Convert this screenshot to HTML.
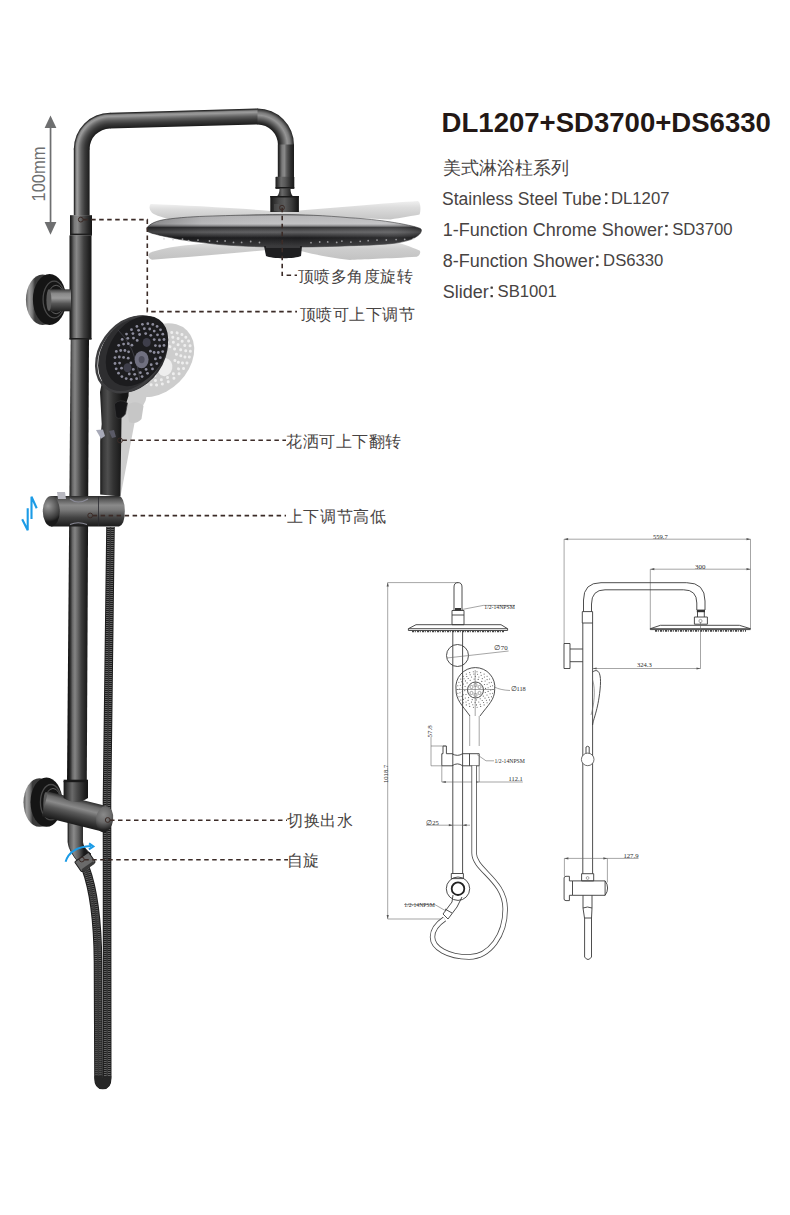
<!DOCTYPE html>
<html><head><meta charset="utf-8">
<style>
html,body{margin:0;padding:0;background:#fff;}
body{width:790px;height:1215px;position:relative;overflow:hidden;font-family:"Liberation Sans",sans-serif;}
.t{position:absolute;white-space:nowrap;color:#474342;line-height:1;}
#title{left:441.6px;top:109px;font-size:27.55px;font-weight:bold;color:#231815;}
.k{font-size:18px;}
.v{font-size:16.7px;}
.cn{font-size:17.7px;}
.lab{font-size:16px;letter-spacing:0.6px;color:#474342;}
.col{font-size:13px;}
svg{position:absolute;left:0;top:0;}
</style></head>
<body>
<svg width="790" height="1215" viewBox="0 0 790 1215">
<defs>
  <linearGradient id="tubeV" x1="0" y1="0" x2="1" y2="0">
    <stop offset="0" stop-color="#161618"/>
    <stop offset="0.25" stop-color="#3a3a3c"/>
    <stop offset="0.42" stop-color="#6c6c6e"/>
    <stop offset="0.6" stop-color="#3c3c3e"/>
    <stop offset="1" stop-color="#141416"/>
  </linearGradient>
  <linearGradient id="tubeH" x1="0" y1="0" x2="0" y2="1">
    <stop offset="0" stop-color="#202022"/>
    <stop offset="0.3" stop-color="#5a5a5c"/>
    <stop offset="0.5" stop-color="#707072"/>
    <stop offset="0.75" stop-color="#3a3a3c"/>
    <stop offset="1" stop-color="#161618"/>
  </linearGradient>
  <linearGradient id="disc" gradientUnits="userSpaceOnUse" x1="0" y1="214" x2="0" y2="247">
    <stop offset="0" stop-color="#58585a"/>
    <stop offset="0.07" stop-color="#b6b6b8"/>
    <stop offset="0.3" stop-color="#c2c2c4"/>
    <stop offset="0.36" stop-color="#8a8a8c"/>
    <stop offset="0.41" stop-color="#343436"/>
    <stop offset="0.55" stop-color="#606062"/>
    <stop offset="0.68" stop-color="#2e2e30"/>
    <stop offset="0.72" stop-color="#1c1c1e"/>
    <stop offset="1" stop-color="#3c3c3e"/>
  </linearGradient>
  <linearGradient id="discShade" gradientUnits="userSpaceOnUse" x1="147" y1="0" x2="421" y2="0">
    <stop offset="0" stop-color="#000" stop-opacity="0.3"/>
    <stop offset="0.2" stop-color="#000" stop-opacity="0.05"/>
    <stop offset="0.55" stop-color="#fff" stop-opacity="0.0"/>
    <stop offset="0.85" stop-color="#fff" stop-opacity="0.06"/>
    <stop offset="1" stop-color="#000" stop-opacity="0.25"/>
  </linearGradient>
  <linearGradient id="ghostA" x1="0" y1="0" x2="0" y2="1">
    <stop offset="0" stop-color="#f0f0f0"/>
    <stop offset="0.35" stop-color="#dcdcdc"/>
    <stop offset="1" stop-color="#c6c6c6"/>
  </linearGradient>
  <linearGradient id="ghostB" x1="0" y1="0" x2="0" y2="1">
    <stop offset="0" stop-color="#e2e2e2"/>
    <stop offset="0.4" stop-color="#cdcdcd"/>
    <stop offset="1" stop-color="#c2c2c2"/>
  </linearGradient>
  <linearGradient id="cylH" x1="0" y1="0" x2="0" y2="1">
    <stop offset="0" stop-color="#2a2a2c"/>
    <stop offset="0.25" stop-color="#505052"/>
    <stop offset="0.45" stop-color="#6a6a6c"/>
    <stop offset="0.7" stop-color="#38383a"/>
    <stop offset="1" stop-color="#1a1a1c"/>
  </linearGradient>
  <radialGradient id="cap" cx="0.4" cy="0.4" r="0.7">
    <stop offset="0" stop-color="#7a7a7c"/>
    <stop offset="0.6" stop-color="#4a4a4c"/>
    <stop offset="1" stop-color="#202022"/>
  </radialGradient>
  <linearGradient id="flange" x1="0" y1="0" x2="1" y2="0">
    <stop offset="0" stop-color="#2a2a2c"/>
    <stop offset="0.2" stop-color="#6a6a6c"/>
    <stop offset="0.45" stop-color="#2a2a2c"/>
    <stop offset="1" stop-color="#1a1a1c"/>
  </linearGradient>
</defs>
<defs><linearGradient id="gLV" gradientUnits="userSpaceOnUse" x1="73.8" y1="0" x2="89.6" y2="0"><stop offset="0" stop-color="#1a1a1a"/><stop offset="0.06" stop-color="#3a3a3a"/><stop offset="0.14" stop-color="#8c8c8c"/><stop offset="0.24" stop-color="#9a9a9a"/><stop offset="0.36" stop-color="#7a7a7a"/><stop offset="0.5" stop-color="#5a5a5a"/><stop offset="0.7" stop-color="#3a3a3a"/><stop offset="0.9" stop-color="#262626"/><stop offset="1" stop-color="#1a1a1a"/></linearGradient><radialGradient id="gLC" gradientUnits="userSpaceOnUse" cx="110" cy="149" r="36.2"><stop offset="0.5635" stop-color="#1a1a1a"/><stop offset="0.6072" stop-color="#262626"/><stop offset="0.6945" stop-color="#3a3a3a"/><stop offset="0.7818" stop-color="#5a5a5a"/><stop offset="0.8429" stop-color="#7a7a7a"/><stop offset="0.8952" stop-color="#9a9a9a"/><stop offset="0.9389" stop-color="#8c8c8c"/><stop offset="0.9738" stop-color="#3a3a3a"/><stop offset="1.0000" stop-color="#1a1a1a"/></radialGradient><linearGradient id="gTB" gradientUnits="userSpaceOnUse" x1="110" y1="112.8" x2="110.46" y2="128.6"><stop offset="0" stop-color="#1a1a1a"/><stop offset="0.06" stop-color="#3a3a3a"/><stop offset="0.14" stop-color="#8c8c8c"/><stop offset="0.24" stop-color="#9a9a9a"/><stop offset="0.36" stop-color="#7a7a7a"/><stop offset="0.5" stop-color="#5a5a5a"/><stop offset="0.7" stop-color="#3a3a3a"/><stop offset="0.9" stop-color="#262626"/><stop offset="1" stop-color="#1a1a1a"/></linearGradient><radialGradient id="gRC" gradientUnits="userSpaceOnUse" cx="257.5" cy="145" r="36.5"><stop offset="0.5616" stop-color="#1a1a1a"/><stop offset="0.6274" stop-color="#333"/><stop offset="0.7370" stop-color="#6a6a6a"/><stop offset="0.8159" stop-color="#959595"/><stop offset="0.8904" stop-color="#7a7a7a"/><stop offset="0.9649" stop-color="#3e3e3e"/><stop offset="1.0000" stop-color="#1c1c1c"/></radialGradient><linearGradient id="gRV" gradientUnits="userSpaceOnUse" x1="278" y1="0" x2="294" y2="0"><stop offset="0" stop-color="#1c1c1c"/><stop offset="0.1" stop-color="#3a3a3a"/><stop offset="0.25" stop-color="#7a7a7a"/><stop offset="0.4" stop-color="#8a8a8a"/><stop offset="0.55" stop-color="#5a5a5a"/><stop offset="0.8" stop-color="#2e2e2e"/><stop offset="1" stop-color="#1a1a1a"/></linearGradient><linearGradient id="gNut" gradientUnits="userSpaceOnUse" x1="275.5" y1="0" x2="294.3" y2="0"><stop offset="0" stop-color="#1a1a1a"/><stop offset="0.12" stop-color="#3a3a3a"/><stop offset="0.3" stop-color="#6a6a6a"/><stop offset="0.5" stop-color="#5a5a5a"/><stop offset="0.8" stop-color="#2e2e2e"/><stop offset="1" stop-color="#161616"/></linearGradient><linearGradient id="gNeck" gradientUnits="userSpaceOnUse" x1="277.8" y1="0" x2="292" y2="0"><stop offset="0" stop-color="#222"/><stop offset="0.3" stop-color="#6a6a6a"/><stop offset="0.6" stop-color="#4a4a4a"/><stop offset="1" stop-color="#1a1a1a"/></linearGradient><linearGradient id="gSw" gradientUnits="userSpaceOnUse" x1="270.3" y1="0" x2="298.9" y2="0"><stop offset="0" stop-color="#161616"/><stop offset="0.1" stop-color="#2a2a2a"/><stop offset="0.3" stop-color="#4a4a4a"/><stop offset="0.5" stop-color="#5a5a5a"/><stop offset="0.75" stop-color="#3a3a3a"/><stop offset="0.92" stop-color="#1e1e1e"/><stop offset="1" stop-color="#121212"/></linearGradient><linearGradient id="gSl" gradientUnits="userSpaceOnUse" x1="70" y1="0" x2="92" y2="0"><stop offset="0" stop-color="#161616"/><stop offset="0.08" stop-color="#333"/><stop offset="0.2" stop-color="#7a7a7a"/><stop offset="0.35" stop-color="#8a8a8a"/><stop offset="0.55" stop-color="#555"/><stop offset="0.8" stop-color="#2e2e2e"/><stop offset="1" stop-color="#141414"/></linearGradient><linearGradient id="gLT" gradientUnits="userSpaceOnUse" x1="68.8" y1="0" x2="88" y2="0"><stop offset="0" stop-color="#161616"/><stop offset="0.08" stop-color="#2e2e2e"/><stop offset="0.2" stop-color="#6a6a6a"/><stop offset="0.32" stop-color="#848484"/><stop offset="0.45" stop-color="#6a6a6a"/><stop offset="0.65" stop-color="#3e3e3e"/><stop offset="0.88" stop-color="#222"/><stop offset="1" stop-color="#161616"/></linearGradient><linearGradient id="gTee" gradientUnits="userSpaceOnUse" x1="69.5" y1="0" x2="91.5" y2="0"><stop offset="0" stop-color="#161616"/><stop offset="0.08" stop-color="#2e2e2e"/><stop offset="0.2" stop-color="#6a6a6a"/><stop offset="0.32" stop-color="#888"/><stop offset="0.45" stop-color="#6e6e6e"/><stop offset="0.65" stop-color="#404040"/><stop offset="0.88" stop-color="#222"/><stop offset="1" stop-color="#161616"/></linearGradient><linearGradient id="gFTr" gradientUnits="userSpaceOnUse" x1="25.900000000000006" y1="0" x2="34.900000000000006" y2="0"><stop offset="0" stop-color="#5a5a5a"/><stop offset="0.35" stop-color="#a0a0a0"/><stop offset="0.7" stop-color="#7a7a7a"/><stop offset="1" stop-color="#3a3a3a"/></linearGradient><linearGradient id="gFTa" gradientUnits="userSpaceOnUse" x1="0" y1="289.3" x2="0" y2="311.3"><stop offset="0" stop-color="#3a3a3a"/><stop offset="0.2" stop-color="#8a8a8a"/><stop offset="0.4" stop-color="#9a9a9a"/><stop offset="0.65" stop-color="#555"/><stop offset="1" stop-color="#222"/></linearGradient><linearGradient id="gHandle" gradientUnits="userSpaceOnUse" x1="100" y1="0" x2="122" y2="0"><stop offset="0" stop-color="#1a1a1a"/><stop offset="0.15" stop-color="#3a3a3a"/><stop offset="0.35" stop-color="#4e4e4e"/><stop offset="0.6" stop-color="#333"/><stop offset="1" stop-color="#161616"/></linearGradient><linearGradient id="gSlB" gradientUnits="userSpaceOnUse" x1="0" y1="496" x2="0" y2="526.6"><stop offset="0" stop-color="#2a2a2a"/><stop offset="0.1" stop-color="#555"/><stop offset="0.3" stop-color="#8a8a8a"/><stop offset="0.45" stop-color="#7a7a7a"/><stop offset="0.7" stop-color="#444"/><stop offset="1" stop-color="#1a1a1a"/></linearGradient><radialGradient id="gCap" gradientUnits="userSpaceOnUse" cx="48" cy="506" r="16"><stop offset="0.0000" stop-color="#9a9a9a"/><stop offset="0.4000" stop-color="#6a6a6a"/><stop offset="0.8000" stop-color="#3a3a3a"/><stop offset="1.0000" stop-color="#1a1a1a"/></radialGradient><linearGradient id="gEl" gradientUnits="userSpaceOnUse" x1="67" y1="0" x2="84" y2="0"><stop offset="0" stop-color="#1a1a1a"/><stop offset="0.15" stop-color="#5a5a5a"/><stop offset="0.4" stop-color="#8a8a8a"/><stop offset="0.7" stop-color="#5a5a5a"/><stop offset="1" stop-color="#1a1a1a"/></linearGradient><linearGradient id="gFDr" gradientUnits="userSpaceOnUse" x1="23.5" y1="0" x2="32.5" y2="0"><stop offset="0" stop-color="#5a5a5a"/><stop offset="0.35" stop-color="#a0a0a0"/><stop offset="0.7" stop-color="#7a7a7a"/><stop offset="1" stop-color="#3a3a3a"/></linearGradient><linearGradient id="gFDa" gradientUnits="userSpaceOnUse" x1="0" y1="792" x2="0" y2="816"><stop offset="0" stop-color="#3a3a3a"/><stop offset="0.2" stop-color="#8a8a8a"/><stop offset="0.4" stop-color="#9a9a9a"/><stop offset="0.65" stop-color="#555"/><stop offset="1" stop-color="#222"/></linearGradient><linearGradient id="gDB" gradientUnits="userSpaceOnUse" x1="0" y1="791" x2="0" y2="817"><stop offset="0" stop-color="#2a2a2a"/><stop offset="0.15" stop-color="#6a6a6a"/><stop offset="0.35" stop-color="#8a8a8a"/><stop offset="0.55" stop-color="#5a5a5a"/><stop offset="0.8" stop-color="#333"/><stop offset="1" stop-color="#1a1a1a"/></linearGradient><radialGradient id="gCap2" gradientUnits="userSpaceOnUse" cx="103" cy="815" r="15"><stop offset="0.0000" stop-color="#8a8a8a"/><stop offset="0.5000" stop-color="#6a6a6a"/><stop offset="0.8500" stop-color="#3a3a3a"/><stop offset="1.0000" stop-color="#222"/></radialGradient><linearGradient id="gDN" gradientUnits="userSpaceOnUse" x1="63.6" y1="0" x2="88" y2="0"><stop offset="0" stop-color="#161616"/><stop offset="0.12" stop-color="#333"/><stop offset="0.35" stop-color="#6a6a6a"/><stop offset="0.55" stop-color="#4a4a4a"/><stop offset="0.85" stop-color="#222"/><stop offset="1" stop-color="#141414"/></linearGradient></defs><g id="photo"><g fill="#6e6f70">
<rect x="49.7" y="125" width="1.7" height="100"/>
<path d="M50.5 115.5 L44.6 128 L56.4 128 Z"/>
<path d="M50.5 234.7 L44.6 222 L56.4 222 Z"/>
</g>
<text transform="translate(45,201.5) rotate(-90)" font-family="Liberation Sans" font-size="18" fill="#6e6f70" textLength="55" lengthAdjust="spacingAndGlyphs">100mm</text>
<path d="M150.6 204.1 C 190 205.5 250 209 285 212 L 285 216 C 250 217.5 200 219 170.4 219.3 C 160 217 153 214 152 212.7 C 149 210 149 206 150.6 204.1 Z" fill="url(#ghostA)"/>
<path d="M285 212 C 330 208 390 203 417.8 201.1 C 421 202 421 212 419.5 214.5 C 415 215.5 400 218 390.5 219.4 C 350 218 310 216 285 216 Z" fill="url(#ghostA)"/>
<path d="M150 252.7 C 170 245 200 242 285 242 L 285 248 C 250 252 200 256 152 259.8 C 148 258 147.5 255 150 252.7 Z" fill="url(#ghostB)"/>
<path d="M285 242 C 340 242 390 243 398.6 242.7 C 405 245 415 248 419.9 250.8 C 421 253 419 256 416.8 256.8 C 390 258.5 360 259.5 350 259.9 C 320 257 300 250 285 248 Z" fill="url(#ghostB)"/>
<path d="M147.1 227.4 C 152 222 160 219.8 170.4 218.8 C 185 217 200 216.3 220 215.8 C 250 214.8 270 214.5 285 214.5 C 300 214.5 325 215.5 350 217.8 C 380 219.5 405 224 415.8 227 C 419 228 421.4 228.5 421.4 230 C 421.4 233 419 236 410.8 239.6 C 405 241.5 398 243 390.5 243.7 C 375 245 360 245.5 350 245.7 C 320 247 300 247 285 247 C 265 247 245 246.5 220 244.6 C 200 242.5 190 241 180.5 239.6 C 165 236.5 150 233.5 148 231.5 C 147 230 146.8 228.5 147.1 227.4 Z" fill="url(#disc)" stroke="#3a3a3c" stroke-width="0.6"/>
<path d="M147.1 227.4 C 152 222 160 219.8 170.4 218.8 C 185 217 200 216.3 220 215.8 C 250 214.8 270 214.5 285 214.5 C 300 214.5 325 215.5 350 217.8 C 380 219.5 405 224 415.8 227 C 419 228 421.4 228.5 421.4 230 C 421.4 233 419 236 410.8 239.6 C 405 241.5 398 243 390.5 243.7 C 375 245 360 245.5 350 245.7 C 320 247 300 247 285 247 C 265 247 245 246.5 220 244.6 C 200 242.5 190 241 180.5 239.6 C 165 236.5 150 233.5 148 231.5 C 147 230 146.8 228.5 147.1 227.4 Z" fill="url(#discShade)"/>
<circle cx="164.0" cy="238.8" r="0.9" fill="#c8c8ca" opacity="0.7"/>
<circle cx="173.0" cy="239.5" r="0.9" fill="#c8c8ca" opacity="0.7"/>
<circle cx="182.5" cy="239.1" r="0.9" fill="#c8c8ca" opacity="0.7"/>
<circle cx="188.6" cy="240.7" r="0.9" fill="#c8c8ca" opacity="0.7"/>
<circle cx="198.0" cy="240.1" r="0.9" fill="#c8c8ca" opacity="0.7"/>
<circle cx="209.5" cy="241.0" r="0.9" fill="#c8c8ca" opacity="0.7"/>
<circle cx="217.3" cy="241.3" r="0.9" fill="#c8c8ca" opacity="0.7"/>
<circle cx="225.1" cy="241.0" r="0.9" fill="#c8c8ca" opacity="0.7"/>
<circle cx="233.5" cy="242.4" r="0.9" fill="#c8c8ca" opacity="0.7"/>
<circle cx="241.6" cy="242.4" r="0.9" fill="#c8c8ca" opacity="0.7"/>
<circle cx="250.7" cy="241.5" r="0.9" fill="#c8c8ca" opacity="0.7"/>
<circle cx="259.5" cy="242.5" r="0.9" fill="#c8c8ca" opacity="0.7"/>
<circle cx="311.0" cy="242.7" r="0.9" fill="#c8c8ca" opacity="0.7"/>
<circle cx="319.7" cy="242.0" r="0.9" fill="#c8c8ca" opacity="0.7"/>
<circle cx="327.7" cy="241.9" r="0.9" fill="#c8c8ca" opacity="0.7"/>
<circle cx="336.7" cy="242.4" r="0.9" fill="#c8c8ca" opacity="0.7"/>
<circle cx="341.9" cy="241.1" r="0.9" fill="#c8c8ca" opacity="0.7"/>
<circle cx="350.9" cy="242.1" r="0.9" fill="#c8c8ca" opacity="0.7"/>
<circle cx="360.2" cy="241.3" r="0.9" fill="#c8c8ca" opacity="0.7"/>
<circle cx="368.2" cy="240.7" r="0.9" fill="#c8c8ca" opacity="0.7"/>
<circle cx="377.0" cy="240.1" r="0.9" fill="#c8c8ca" opacity="0.7"/>
<circle cx="386.3" cy="240.0" r="0.9" fill="#c8c8ca" opacity="0.7"/>
<circle cx="396.1" cy="239.6" r="0.9" fill="#c8c8ca" opacity="0.7"/>
<circle cx="404.7" cy="239.4" r="0.9" fill="#c8c8ca" opacity="0.7"/>
<circle cx="413.5" cy="238.6" r="0.9" fill="#c8c8ca" opacity="0.7"/>
<path d="M264 246 L302 246 L301 256 C 295 259 272 259 266 256 Z" fill="#1e1e20"/>
<rect x="266" y="246" width="34" height="2" fill="#3a3a3c"/>
<rect x="73.8" y="148.5" width="15.8" height="67" fill="url(#gLV)"/>
<path d="M73.8 149.5 L73.8 149 A36.2 36.2 0 0 1 110 112.8 L110.5 112.8 L110.5 128.6 L110 128.6 A20.4 20.4 0 0 0 89.6 149 L89.6 149.5 Z" fill="url(#gLC)"/>
<path d="M110 112.8 L258 108.5 L258 124.5 L110 128.6 Z" fill="url(#gTB)"/>
<path d="M257.5 108.5 A36.5 36.5 0 0 1 294 145 L278 145 A20.5 20.5 0 0 0 257.5 124.5 Z" fill="url(#gRC)"/>
<rect x="277.8" y="144.5" width="16.2" height="33" fill="url(#gRV)"/>
<rect x="275.5" y="176.8" width="18.8" height="11.9" rx="0.8" fill="url(#gNut)"/>
<rect x="275.5" y="187" width="18.8" height="1.7" fill="#1a1a1a"/>
<path d="M279.5 188.7 L290.5 188.7 Q290.5 194 293 196.2 L277 196.2 Q279.5 194 279.5 188.7 Z" fill="url(#gNeck)"/>
<rect x="270.3" y="196" width="28.6" height="16" fill="url(#gSw)"/>
<rect x="270.3" y="196" width="28.6" height="1.5" fill="#1a1a1a"/>
<rect x="274" y="204" width="5" height="7" fill="#5a5a5a" opacity="0.5"/>
<rect x="70" y="215.2" width="22" height="20.2" fill="url(#gSl)"/>
<rect x="70" y="233.6" width="22" height="1.8" fill="#1e1e1e"/>
<path d="M70.7 339 L89 339 L86.8 780 L67 780 Z" fill="url(#gLT)"/>
<rect x="69.5" y="235.4" width="22" height="104" fill="url(#gTee)"/>
<rect x="69.5" y="338" width="22" height="1.5" fill="#1e1e1e"/>
<ellipse cx="42.6" cy="299.8" rx="16.7" ry="25.2" fill="url(#gFTr)"/>
<ellipse cx="49.6" cy="299.5" rx="16.7" ry="25.5" fill="#151515"/>
<ellipse cx="54.1" cy="299.5" rx="11.022" ry="18.36" fill="none" stroke="#4a4a4a" stroke-width="1.3"/>
<ellipse cx="56.1" cy="299.5" rx="8.35" ry="14.280000000000001" fill="none" stroke="#5e5e5e" stroke-width="1"/>
<rect x="48.9" y="289.3" width="22.1" height="22.0" fill="url(#gFTa)"/>
<ellipse cx="48.9" cy="300.3" rx="2.5" ry="11.0" fill="#5a5a5a"/>
<g transform="rotate(10 110 496)" fill="#cdcdcd"><ellipse cx="133" cy="354" rx="42" ry="31" transform="rotate(-55 133 354)"/><path d="M104 372 L129 382 L128.5 396 L121.5 418 L120.4 496.5 L100.2 494.4 L100.2 440.8 L101.7 424 L100 392 Z"/></g>
<g transform="rotate(10 110 496)" fill="#eeeeee"><circle cx="148.1" cy="340.1" r="1.5"/><circle cx="150.8" cy="344.8" r="1.5"/><circle cx="150.4" cy="351.2" r="1.5"/><circle cx="130.9" cy="362.9" r="1.5"/><circle cx="128.2" cy="358.2" r="1.5"/><circle cx="128.6" cy="351.8" r="1.5"/><circle cx="131.9" cy="345.2" r="1.5"/><circle cx="137.2" cy="340.4" r="1.5"/><circle cx="143.1" cy="338.5" r="1.5"/><circle cx="150.8" cy="335.3" r="1.5"/><circle cx="154.2" cy="339.6" r="1.5"/><circle cx="155.4" cy="345.6" r="1.5"/><circle cx="154.1" cy="352.5" r="1.5"/><circle cx="133.3" cy="369.4" r="1.5"/><circle cx="128.2" cy="367.7" r="1.5"/><circle cx="124.8" cy="363.4" r="1.5"/><circle cx="123.6" cy="357.4" r="1.5"/><circle cx="124.9" cy="350.5" r="1.5"/><circle cx="128.3" cy="343.7" r="1.5"/><circle cx="133.5" cy="338.1" r="1.5"/><circle cx="139.6" cy="334.5" r="1.5"/><circle cx="145.7" cy="333.6" r="1.5"/><circle cx="154.2" cy="331.1" r="1.5"/><circle cx="157.5" cy="334.8" r="1.5"/><circle cx="159.4" cy="339.9" r="1.5"/><circle cx="159.7" cy="346.0" r="1.5"/><circle cx="158.3" cy="352.5" r="1.5"/><circle cx="155.4" cy="358.9" r="1.5"/><circle cx="151.2" cy="364.7" r="1.5"/><circle cx="146.1" cy="369.4" r="1.5"/><circle cx="140.4" cy="372.7" r="1.5"/><circle cx="134.7" cy="374.3" r="1.5"/><circle cx="129.3" cy="374.0" r="1.5"/><circle cx="124.8" cy="371.9" r="1.5"/><circle cx="121.5" cy="368.2" r="1.5"/><circle cx="119.6" cy="363.1" r="1.5"/><circle cx="119.3" cy="357.0" r="1.5"/><circle cx="120.7" cy="350.5" r="1.5"/><circle cx="123.6" cy="344.1" r="1.5"/><circle cx="127.8" cy="338.3" r="1.5"/><circle cx="132.9" cy="333.6" r="1.5"/><circle cx="138.6" cy="330.3" r="1.5"/><circle cx="144.3" cy="328.7" r="1.5"/><circle cx="149.7" cy="329.0" r="1.5"/><circle cx="157.1" cy="326.4" r="1.5"/><circle cx="160.5" cy="329.8" r="1.5"/><circle cx="162.8" cy="334.2" r="1.5"/><circle cx="164.0" cy="339.5" r="1.5"/><circle cx="164.0" cy="345.4" r="1.5"/><circle cx="162.7" cy="351.6" r="1.5"/><circle cx="160.3" cy="357.7" r="1.5"/><circle cx="156.8" cy="363.6" r="1.5"/><circle cx="152.5" cy="368.9" r="1.5"/><circle cx="147.5" cy="373.3" r="1.5"/><circle cx="142.1" cy="376.6" r="1.5"/><circle cx="136.6" cy="378.7" r="1.5"/><circle cx="131.2" cy="379.3" r="1.5"/><circle cx="126.2" cy="378.6" r="1.5"/><circle cx="121.9" cy="376.6" r="1.5"/><circle cx="118.5" cy="373.2" r="1.5"/><circle cx="116.2" cy="368.8" r="1.5"/><circle cx="115.0" cy="363.5" r="1.5"/><circle cx="115.0" cy="357.6" r="1.5"/><circle cx="116.3" cy="351.4" r="1.5"/><circle cx="118.7" cy="345.3" r="1.5"/><circle cx="122.2" cy="339.4" r="1.5"/><circle cx="126.5" cy="334.1" r="1.5"/><circle cx="131.5" cy="329.7" r="1.5"/><circle cx="136.9" cy="326.4" r="1.5"/><circle cx="142.4" cy="324.3" r="1.5"/><circle cx="147.8" cy="323.7" r="1.5"/><circle cx="152.8" cy="324.4" r="1.5"/><ellipse cx="141.6" cy="359.6" rx="7.5" ry="9"/></g>
<path d="M127 405 Q136 399 143.5 406 L141.5 419 Q136 425 129 422 Z" fill="#c6c6c6"/>
<g fill="url(#gHandle)"><path d="M104 372 L129 382 L128.5 396 L121.5 418 L120.4 496.5 L100.2 494.4 L100.2 440.8 L101.7 424 L100 392 Z"/></g>
<g fill="#2e2e30"><ellipse cx="133" cy="354" rx="42" ry="31" transform="rotate(-55 133 354)"/></g>
<ellipse cx="131" cy="352" rx="41" ry="30" transform="rotate(-55 133 354)" fill="none" stroke="#3e3e40" stroke-width="2.5"/>
<ellipse cx="137" cy="351" rx="38.5" ry="27" transform="rotate(-55 137 351)" fill="#1c1c1e"/>
<path d="M118 330 Q135 345 140 380" stroke="#3a3a40" stroke-width="1" fill="none"/>
<circle cx="150.4" cy="351.2" r="1.4" fill="#8c8c9c"/>
<circle cx="130.9" cy="362.9" r="1.4" fill="#8c8c9c"/>
<circle cx="128.2" cy="358.2" r="1.4" fill="#8c8c9c"/>
<circle cx="128.6" cy="351.8" r="1.4" fill="#8c8c9c"/>
<circle cx="131.9" cy="345.2" r="1.4" fill="#8c8c9c"/>
<circle cx="137.2" cy="340.4" r="1.4" fill="#8c8c9c"/>
<circle cx="150.8" cy="335.3" r="1.4" fill="#8c8c9c"/>
<circle cx="154.2" cy="339.6" r="1.4" fill="#8c8c9c"/>
<circle cx="155.4" cy="345.6" r="1.4" fill="#8c8c9c"/>
<circle cx="154.1" cy="352.5" r="1.4" fill="#8c8c9c"/>
<circle cx="133.3" cy="369.4" r="1.4" fill="#8c8c9c"/>
<circle cx="123.6" cy="357.4" r="1.4" fill="#8c8c9c"/>
<circle cx="124.9" cy="350.5" r="1.4" fill="#8c8c9c"/>
<circle cx="128.3" cy="343.7" r="1.4" fill="#8c8c9c"/>
<circle cx="133.5" cy="338.1" r="1.4" fill="#8c8c9c"/>
<circle cx="139.6" cy="334.5" r="1.4" fill="#8c8c9c"/>
<circle cx="145.7" cy="333.6" r="1.4" fill="#8c8c9c"/>
<circle cx="154.2" cy="331.1" r="1.4" fill="#8c8c9c"/>
<circle cx="157.5" cy="334.8" r="1.4" fill="#8c8c9c"/>
<circle cx="159.4" cy="339.9" r="1.4" fill="#8c8c9c"/>
<circle cx="159.7" cy="346.0" r="1.4" fill="#8c8c9c"/>
<circle cx="158.3" cy="352.5" r="1.4" fill="#8c8c9c"/>
<circle cx="155.4" cy="358.9" r="1.4" fill="#8c8c9c"/>
<circle cx="151.2" cy="364.7" r="1.4" fill="#8c8c9c"/>
<circle cx="146.1" cy="369.4" r="1.4" fill="#8c8c9c"/>
<circle cx="140.4" cy="372.7" r="1.4" fill="#8c8c9c"/>
<circle cx="134.7" cy="374.3" r="1.4" fill="#8c8c9c"/>
<circle cx="129.3" cy="374.0" r="1.4" fill="#8c8c9c"/>
<circle cx="121.5" cy="368.2" r="1.4" fill="#8c8c9c"/>
<circle cx="119.6" cy="363.1" r="1.4" fill="#8c8c9c"/>
<circle cx="119.3" cy="357.0" r="1.4" fill="#8c8c9c"/>
<circle cx="120.7" cy="350.5" r="1.4" fill="#8c8c9c"/>
<circle cx="123.6" cy="344.1" r="1.4" fill="#8c8c9c"/>
<circle cx="127.8" cy="338.3" r="1.4" fill="#8c8c9c"/>
<circle cx="132.9" cy="333.6" r="1.4" fill="#8c8c9c"/>
<circle cx="138.6" cy="330.3" r="1.4" fill="#8c8c9c"/>
<circle cx="144.3" cy="328.7" r="1.4" fill="#8c8c9c"/>
<circle cx="149.7" cy="329.0" r="1.4" fill="#8c8c9c"/>
<circle cx="157.1" cy="326.4" r="1.4" fill="#8c8c9c"/>
<circle cx="160.5" cy="329.8" r="1.4" fill="#8c8c9c"/>
<circle cx="162.8" cy="334.2" r="1.4" fill="#8c8c9c"/>
<circle cx="164.0" cy="339.5" r="1.4" fill="#8c8c9c"/>
<circle cx="164.0" cy="345.4" r="1.4" fill="#8c8c9c"/>
<circle cx="162.7" cy="351.6" r="1.4" fill="#8c8c9c"/>
<circle cx="160.3" cy="357.7" r="1.4" fill="#8c8c9c"/>
<circle cx="156.8" cy="363.6" r="1.4" fill="#8c8c9c"/>
<circle cx="152.5" cy="368.9" r="1.4" fill="#8c8c9c"/>
<circle cx="147.5" cy="373.3" r="1.4" fill="#8c8c9c"/>
<circle cx="142.1" cy="376.6" r="1.4" fill="#8c8c9c"/>
<circle cx="136.6" cy="378.7" r="1.4" fill="#8c8c9c"/>
<circle cx="131.2" cy="379.3" r="1.4" fill="#8c8c9c"/>
<circle cx="126.2" cy="378.6" r="1.4" fill="#8c8c9c"/>
<circle cx="121.9" cy="376.6" r="1.4" fill="#8c8c9c"/>
<circle cx="118.5" cy="373.2" r="1.4" fill="#8c8c9c"/>
<circle cx="116.2" cy="368.8" r="1.4" fill="#8c8c9c"/>
<circle cx="115.0" cy="363.5" r="1.4" fill="#8c8c9c"/>
<circle cx="115.0" cy="357.6" r="1.4" fill="#8c8c9c"/>
<circle cx="116.3" cy="351.4" r="1.4" fill="#8c8c9c"/>
<circle cx="118.7" cy="345.3" r="1.4" fill="#8c8c9c"/>
<circle cx="122.2" cy="339.4" r="1.4" fill="#8c8c9c"/>
<circle cx="126.5" cy="334.1" r="1.4" fill="#8c8c9c"/>
<circle cx="131.5" cy="329.7" r="1.4" fill="#8c8c9c"/>
<circle cx="136.9" cy="326.4" r="1.4" fill="#8c8c9c"/>
<circle cx="142.4" cy="324.3" r="1.4" fill="#8c8c9c"/>
<circle cx="147.8" cy="323.7" r="1.4" fill="#8c8c9c"/>
<circle cx="152.8" cy="324.4" r="1.4" fill="#8c8c9c"/>
<ellipse cx="141.6" cy="359.6" rx="7" ry="8.6" fill="#707080"/>
<ellipse cx="141.6" cy="359.6" rx="3" ry="3.6" fill="#50505e"/>
<ellipse cx="127.5" cy="367.7" rx="4" ry="4.5" fill="#3e3e4a"/>
<ellipse cx="146.7" cy="342.4" rx="4" ry="4.5" fill="#3e3e4a"/>
<path d="M114.4 404 Q120 398 127.5 403 L125.5 414 Q120 421 116 417 Z" fill="#161618" stroke="#3a3a3c" stroke-width="0.6"/>
<path d="M96 430 L103 429.6 L105 436 L101 438.7 Z" fill="#a8aab8"/>
<path d="M109 431 L114 430 L116 437 L112 438 Z" fill="#5a5a66"/>
<path d="M51 496 L119 496 Q124.8 498 124.8 511.3 Q124.8 524.6 119 526.6 L51 526.6 Z" fill="url(#gSlB)"/>
<path d="M98.5 496.5 L98.5 526" stroke="#2a2a30" stroke-width="0.8"/>
<ellipse cx="51.3" cy="511.3" rx="8.5" ry="15.3" fill="url(#gCap)"/>
<path d="M57 492 L65 492 L66 499 L58 499 Z" fill="#b8b8c0"/>
<path d="M70 499 Q78 505 88 499" stroke="#8a8a96" stroke-width="1.2" fill="none"/>
<path d="M70 524.5 Q78 521 87 524.5" stroke="#8a8a96" stroke-width="1.2" fill="none"/>
<path d="M110.5 527 L107 800 L107.2 1078 Q107.2 1085 102.8 1085 Q98.5 1085 98.5 1078 L98 962 Q97.5 900 85.5 868" fill="none" stroke="#1e1e1e" stroke-width="8.6"/>
<path d="M110.5 527 L107 800 L107.2 1078 Q107.2 1085 102.8 1085 Q98.5 1085 98.5 1078 L98 962 Q97.5 900 85.5 868" fill="none" stroke="#626262" stroke-width="6.6" stroke-dasharray="1 1"/>
<path d="M110.5 527 L107 800 L107.2 1078 Q107.2 1085 102.8 1085 Q98.5 1085 98.5 1078 L98 962 Q97.5 900 85.5 868" fill="none" stroke="#3a3a3a" stroke-width="1.5"/>
<path d="M107.2 1076 Q107.2 1085 102.8 1085 Q98.5 1085 98.5 1076" fill="none" stroke="#262626" stroke-width="8"/>
<path d="M22.2 519.3 L27.7 530.3 L27.7 508.3 M31.5 518.9 L31.5 496.8 L36.7 508.3" fill="none" stroke="#1b9be6" stroke-width="2.1" stroke-linejoin="miter"/>
<path d="M68 818 L82.5 821 L82.5 842 Q83 848 91 854 L80 864 Q69 852 68 842 Z" fill="url(#gEl)" stroke="#161616" stroke-width="0.8"/>
<g transform="rotate(-35 85 862)"><rect x="76.5" y="856" width="17" height="12" rx="1" fill="#6a6a6a" stroke="#1a1a1a" stroke-width="1"/><rect x="78" y="866" width="14" height="3" fill="#3a3a3a"/></g>
<ellipse cx="39.5" cy="802.5" rx="16" ry="24.3" fill="url(#gFDr)"/>
<ellipse cx="46.5" cy="802.2" rx="16" ry="24.6" fill="#151515"/>
<ellipse cx="51.0" cy="802.2" rx="10.56" ry="17.712" fill="none" stroke="#4a4a4a" stroke-width="1.3"/>
<ellipse cx="53.0" cy="802.2" rx="8.0" ry="13.776000000000002" fill="none" stroke="#5e5e5e" stroke-width="1"/>
<rect x="45.8" y="792" width="4.200000000000003" height="24" fill="url(#gFDa)"/>
<ellipse cx="45.8" cy="804.0" rx="2.5" ry="12.0" fill="#5a5a5a"/>
<g transform="rotate(14 45 804)"><rect x="45" y="791" width="61" height="26" fill="url(#gDB)"/></g>
<ellipse cx="104.6" cy="819.2" rx="8.6" ry="13.2" transform="rotate(8 104.6 819.2)" fill="url(#gCap2)"/>
<path d="M63.6 781 L88 781 L88 798 Q76 806 63.6 798 Z" fill="url(#gDN)"/>
<rect x="63.6" y="779.7" width="24.4" height="2.5" fill="#1a1a1a"/>
<path d="M65.6 861.8 Q70 847 91 846" fill="none" stroke="#1b9be6" stroke-width="2"/>
<path d="M89.1 843.4 L93.4 846.4 L88.9 849.4" fill="none" stroke="#1b9be6" stroke-width="2"/></g>
<g id="leaders"><path d="M83.2 219.6 L147.3 219.6 L147.3 311.6 L297 311.6" stroke="#3b2b27" stroke-width="1.6" stroke-dasharray="4.5 3.5" fill="none"/>
<path d="M282.2 207.7 L282.2 275.3 L297 275.3" stroke="#3b2b27" stroke-width="1.6" stroke-dasharray="4.5 3.5" fill="none"/>
<path d="M122.4 440.3 L286 440.3" stroke="#3b2b27" stroke-width="1.6" stroke-dasharray="4.5 3.5" fill="none"/>
<path d="M92.6 515.6 L286 515.6" stroke="#3b2b27" stroke-width="1.6" stroke-dasharray="4.5 3.5" fill="none"/>
<path d="M110 820.3 L287 820.3" stroke="#3b2b27" stroke-width="1.6" stroke-dasharray="4.5 3.5" fill="none"/>
<path d="M84.2 859.7 L288 859.7" stroke="#3b2b27" stroke-width="1.6" stroke-dasharray="4.5 3.5" fill="none"/>
<circle cx="80.8" cy="219.6" r="2.4" fill="none" stroke="#3b2b27" stroke-width="1"/>
<circle cx="282" cy="207.7" r="2.4" fill="none" stroke="#3b2b27" stroke-width="1"/>
<circle cx="120" cy="440.4" r="2.4" fill="none" stroke="#3b2b27" stroke-width="1"/>
<circle cx="90.2" cy="515.5" r="2.4" fill="none" stroke="#3b2b27" stroke-width="1"/>
<circle cx="107.7" cy="820" r="2.4" fill="none" stroke="#3b2b27" stroke-width="1"/>
<circle cx="81.8" cy="859.5" r="2.4" fill="none" stroke="#3b2b27" stroke-width="1"/>
<rect x="605.0" y="193.29999999999998" width="2.4" height="2.2" rx="0.5" fill="#3e3a39"/>
<rect x="605.0" y="201.89999999999998" width="2.4" height="2.2" rx="0.5" fill="#3e3a39"/>
<rect x="665.1999999999999" y="224.7" width="2.4" height="2.2" rx="0.5" fill="#3e3a39"/>
<rect x="665.1999999999999" y="233.29999999999998" width="2.4" height="2.2" rx="0.5" fill="#3e3a39"/>
<rect x="596.0999999999999" y="255.49999999999997" width="2.4" height="2.2" rx="0.5" fill="#3e3a39"/>
<rect x="596.0999999999999" y="264.09999999999997" width="2.4" height="2.2" rx="0.5" fill="#3e3a39"/>
<rect x="490.5" y="286.5" width="2.4" height="2.2" rx="0.5" fill="#3e3a39"/>
<rect x="490.5" y="295.09999999999997" width="2.4" height="2.2" rx="0.5" fill="#3e3a39"/></g>
<g id="tech"><path d="M387.7 582.6 L458 582.6 M387.7 582.6 L387.7 919 L440.8 919" stroke="#6a6a6a" stroke-width="0.6" fill="none"/>
<path d="M387.7 582.6 L388.8 586.6 L386.6 586.6 Z" fill="#555"/>
<path d="M387.7 919.0 L386.6 915.0 L388.8 915.0 Z" fill="#555"/>
<text transform="translate(388.2,783) rotate(-90)" font-family="Liberation Serif" font-size="6.5" fill="#2a2a2a" textLength="18.2" lengthAdjust="spacingAndGlyphs">1018.7</text>
<path d="M454 610.5 L454 587 Q454 582.6 458 582.6 Q462 582.6 462 587 L462 610.5" stroke="#3a3a3a" stroke-width="0.9" fill="none"/>
<path d="M452 610.5 L464 610.5 L464 624.7 L452 624.7 Z M452 615 L464 615" stroke="#3a3a3a" stroke-width="0.9" fill="none"/>
<rect x="455" y="608" width="6" height="2.5" fill="#333"/>
<path d="M416 624.7 L501 624.7 L507.6 628.7 L408.4 628.7 Z M408.4 628.7 L408.4 630.5 L507.6 630.5 L507.6 628.7" stroke="#3a3a3a" stroke-width="0.9" fill="none"/>
<path d="M412 631.4 L504 631.4" stroke="#444" stroke-width="1.8" stroke-dasharray="2 0.8 1 1.2" fill="none"/>
<path d="M452.8 632 L452.8 873.5 M462.6 632 L462.6 873.5" stroke="#3a3a3a" stroke-width="0.9" fill="none"/>
<circle cx="457.5" cy="655.5" r="11" stroke="#3a3a3a" stroke-width="0.9" fill="none"/>
<path d="M470 716 C 462 705 456 700 456 689.5 A 19.5 19.5 0 1 1 494.7 689.5 C 494.7 700 488 705 480 716" stroke="#3a3a3a" stroke-width="0.9" fill="none"/>
<circle cx="470.2" cy="680.3" r="0.55" fill="#555"/>
<circle cx="474.1" cy="679.1" r="0.55" fill="#555"/>
<circle cx="478.2" cy="679.4" r="0.55" fill="#555"/>
<circle cx="481.8" cy="681.4" r="0.55" fill="#555"/>
<circle cx="484.4" cy="684.5" r="0.55" fill="#555"/>
<circle cx="485.6" cy="688.4" r="0.55" fill="#555"/>
<circle cx="485.3" cy="692.5" r="0.55" fill="#555"/>
<circle cx="483.3" cy="696.1" r="0.55" fill="#555"/>
<circle cx="480.2" cy="698.7" r="0.55" fill="#555"/>
<circle cx="476.3" cy="699.9" r="0.55" fill="#555"/>
<circle cx="472.2" cy="699.6" r="0.55" fill="#555"/>
<circle cx="468.6" cy="697.6" r="0.55" fill="#555"/>
<circle cx="466.0" cy="694.5" r="0.55" fill="#555"/>
<circle cx="464.8" cy="690.6" r="0.55" fill="#555"/>
<circle cx="465.1" cy="686.5" r="0.55" fill="#555"/>
<circle cx="467.1" cy="682.9" r="0.55" fill="#555"/>
<circle cx="487.0" cy="695.0" r="0.55" fill="#555"/>
<circle cx="485.0" cy="698.1" r="0.55" fill="#555"/>
<circle cx="482.2" cy="700.5" r="0.55" fill="#555"/>
<circle cx="478.8" cy="702.0" r="0.55" fill="#555"/>
<circle cx="475.1" cy="702.5" r="0.55" fill="#555"/>
<circle cx="471.5" cy="702.0" r="0.55" fill="#555"/>
<circle cx="468.1" cy="700.4" r="0.55" fill="#555"/>
<circle cx="465.3" cy="698.0" r="0.55" fill="#555"/>
<circle cx="463.3" cy="694.8" r="0.55" fill="#555"/>
<circle cx="462.3" cy="691.3" r="0.55" fill="#555"/>
<circle cx="462.3" cy="687.6" r="0.55" fill="#555"/>
<circle cx="463.4" cy="684.0" r="0.55" fill="#555"/>
<circle cx="465.4" cy="680.9" r="0.55" fill="#555"/>
<circle cx="468.2" cy="678.5" r="0.55" fill="#555"/>
<circle cx="471.6" cy="677.0" r="0.55" fill="#555"/>
<circle cx="475.3" cy="676.5" r="0.55" fill="#555"/>
<circle cx="478.9" cy="677.0" r="0.55" fill="#555"/>
<circle cx="482.3" cy="678.6" r="0.55" fill="#555"/>
<circle cx="485.1" cy="681.0" r="0.55" fill="#555"/>
<circle cx="487.1" cy="684.2" r="0.55" fill="#555"/>
<circle cx="488.1" cy="687.7" r="0.55" fill="#555"/>
<circle cx="488.1" cy="691.4" r="0.55" fill="#555"/>
<circle cx="460.0" cy="692.7" r="0.55" fill="#555"/>
<circle cx="459.7" cy="689.0" r="0.55" fill="#555"/>
<circle cx="460.3" cy="685.3" r="0.55" fill="#555"/>
<circle cx="461.7" cy="681.8" r="0.55" fill="#555"/>
<circle cx="464.0" cy="678.8" r="0.55" fill="#555"/>
<circle cx="466.8" cy="676.5" r="0.55" fill="#555"/>
<circle cx="470.2" cy="674.8" r="0.55" fill="#555"/>
<circle cx="473.9" cy="674.1" r="0.55" fill="#555"/>
<circle cx="477.6" cy="674.2" r="0.55" fill="#555"/>
<circle cx="481.2" cy="675.2" r="0.55" fill="#555"/>
<circle cx="484.4" cy="677.0" r="0.55" fill="#555"/>
<circle cx="487.1" cy="679.6" r="0.55" fill="#555"/>
<circle cx="489.2" cy="682.8" r="0.55" fill="#555"/>
<circle cx="490.4" cy="686.3" r="0.55" fill="#555"/>
<circle cx="490.7" cy="690.0" r="0.55" fill="#555"/>
<circle cx="490.1" cy="693.7" r="0.55" fill="#555"/>
<circle cx="488.7" cy="697.2" r="0.55" fill="#555"/>
<circle cx="486.4" cy="700.2" r="0.55" fill="#555"/>
<circle cx="483.6" cy="702.5" r="0.55" fill="#555"/>
<circle cx="480.2" cy="704.2" r="0.55" fill="#555"/>
<circle cx="476.5" cy="704.9" r="0.55" fill="#555"/>
<circle cx="472.8" cy="704.8" r="0.55" fill="#555"/>
<circle cx="469.2" cy="703.8" r="0.55" fill="#555"/>
<circle cx="466.0" cy="702.0" r="0.55" fill="#555"/>
<circle cx="463.3" cy="699.4" r="0.55" fill="#555"/>
<circle cx="461.2" cy="696.2" r="0.55" fill="#555"/>
<circle cx="484.1" cy="674.1" r="0.55" fill="#555"/>
<circle cx="487.1" cy="676.2" r="0.55" fill="#555"/>
<circle cx="489.6" cy="679.0" r="0.55" fill="#555"/>
<circle cx="491.4" cy="682.2" r="0.55" fill="#555"/>
<circle cx="492.6" cy="685.8" r="0.55" fill="#555"/>
<circle cx="493.0" cy="689.5" r="0.55" fill="#555"/>
<circle cx="492.6" cy="693.2" r="0.55" fill="#555"/>
<circle cx="491.5" cy="696.7" r="0.55" fill="#555"/>
<circle cx="489.6" cy="699.9" r="0.55" fill="#555"/>
<circle cx="487.1" cy="702.7" r="0.55" fill="#555"/>
<circle cx="484.1" cy="704.9" r="0.55" fill="#555"/>
<circle cx="480.7" cy="706.4" r="0.55" fill="#555"/>
<circle cx="477.1" cy="707.2" r="0.55" fill="#555"/>
<circle cx="473.4" cy="707.2" r="0.55" fill="#555"/>
<circle cx="469.7" cy="706.4" r="0.55" fill="#555"/>
<circle cx="466.3" cy="704.9" r="0.55" fill="#555"/>
<circle cx="463.3" cy="702.8" r="0.55" fill="#555"/>
<circle cx="460.8" cy="700.0" r="0.55" fill="#555"/>
<circle cx="459.0" cy="696.8" r="0.55" fill="#555"/>
<circle cx="457.8" cy="693.2" r="0.55" fill="#555"/>
<circle cx="457.4" cy="689.5" r="0.55" fill="#555"/>
<circle cx="457.8" cy="685.8" r="0.55" fill="#555"/>
<circle cx="458.9" cy="682.3" r="0.55" fill="#555"/>
<circle cx="460.8" cy="679.1" r="0.55" fill="#555"/>
<circle cx="463.3" cy="676.3" r="0.55" fill="#555"/>
<circle cx="466.3" cy="674.1" r="0.55" fill="#555"/>
<circle cx="469.7" cy="672.6" r="0.55" fill="#555"/>
<circle cx="473.3" cy="671.8" r="0.55" fill="#555"/>
<circle cx="477.0" cy="671.8" r="0.55" fill="#555"/>
<circle cx="480.7" cy="672.6" r="0.55" fill="#555"/>
<circle cx="475.5" cy="690" r="8" stroke="#3a3a3a" stroke-width="0.9" fill="none"/>
<circle cx="471.5" cy="687" r="1.6" stroke="#6a6a6a" stroke-width="0.6" fill="none"/>
<circle cx="479.5" cy="687" r="1.6" stroke="#6a6a6a" stroke-width="0.6" fill="none"/>
<circle cx="471.5" cy="693" r="1.6" stroke="#6a6a6a" stroke-width="0.6" fill="none"/>
<circle cx="479.5" cy="693" r="1.6" stroke="#6a6a6a" stroke-width="0.6" fill="none"/>
<circle cx="475.5" cy="685" r="1.6" stroke="#6a6a6a" stroke-width="0.6" fill="none"/>
<circle cx="475.5" cy="695" r="1.6" stroke="#6a6a6a" stroke-width="0.6" fill="none"/>
<path d="M469.7 716 L469.7 746 M479.2 716 L479.2 746 M456 689.5 L494.7 689.5 M475.2 670 L475.2 716" stroke="#6a6a6a" stroke-width="0.6" fill="none"/>
<path d="M443 746 L446.4 746 L446.4 753.7 L452 753.7 Q457.5 757 462.6 753.7 L479.2 753.7 L479.2 765.8 L462.6 765.8 Q457.5 762 452 765.8 L441.8 765.8 L441.8 753.7 L443 753.7 Z" stroke="#3a3a3a" stroke-width="0.9" fill="none"/>
<path d="M469.5 753.7 L469.5 765.8" stroke="#3a3a3a" stroke-width="0.9" fill="none"/>
<path d="M431 746 L446 746 M431 765.8 L441.8 765.8 M431 746 L431 765.8 M431 737 L431 746" stroke="#6a6a6a" stroke-width="0.6" fill="none"/>
<text transform="translate(431.8,737.5) rotate(-90)" font-family="Liberation Serif" font-size="6.5" fill="#2a2a2a" textLength="12.2" lengthAdjust="spacingAndGlyphs">57.8</text>
<path d="M441.8 765.8 L441.8 782 M479.2 765.8 L479.2 782 M441.8 782 L522.8 782" stroke="#6a6a6a" stroke-width="0.6" fill="none"/>
<path d="M441.8 782.0 L445.8 780.9 L445.8 783.1 Z" fill="#555"/>
<path d="M479.2 782.0 L475.2 783.1 L475.2 780.9 Z" fill="#555"/>
<text x="508.6" y="781.4" font-family="Liberation Serif" font-size="6.5" fill="#2a2a2a" textLength="14.2" lengthAdjust="spacingAndGlyphs">112.1</text>
<path d="M462 609.5 L483.3 605.4 L515 605.4" stroke="#6a6a6a" stroke-width="0.6" fill="none"/>
<text x="484.3" y="608.5" font-family="Liberation Serif" font-size="7" fill="#2a2a2a" textLength="30.4" lengthAdjust="spacingAndGlyphs">1/2-14NPSM</text>
<path d="M446.8 658 L508.6 651" stroke="#6a6a6a" stroke-width="0.6" fill="none"/>
<text x="494.4" y="650.2" font-family="Liberation Serif" font-size="6.5" fill="#2a2a2a" textLength="13.2" lengthAdjust="spacingAndGlyphs">∅70</text>
<path d="M494.5 687 Q500 690 510 690.5" stroke="#6a6a6a" stroke-width="0.6" fill="none"/>
<text x="510.6" y="690.5" font-family="Liberation Serif" font-size="6.5" fill="#2a2a2a" textLength="15.2" lengthAdjust="spacingAndGlyphs">∅118</text>
<path d="M477.2 754.7 L486 760.8 L494 760.8" stroke="#6a6a6a" stroke-width="0.6" fill="none"/>
<text x="494.4" y="763.2" font-family="Liberation Serif" font-size="7" fill="#2a2a2a" textLength="30.4" lengthAdjust="spacingAndGlyphs">1/2-14NPSM</text>
<path d="M426 825.2 L470 825.2" stroke="#6a6a6a" stroke-width="0.6" fill="none"/>
<path d="M452.8 825.2 L448.8 826.3 L448.8 824.1 Z" fill="#555"/>
<path d="M462.6 825.2 L466.6 824.1 L466.6 826.3 Z" fill="#555"/>
<text x="426.2" y="824.6" font-family="Liberation Serif" font-size="6.5" fill="#2a2a2a" textLength="12.5" lengthAdjust="spacingAndGlyphs">∅25</text>
<path d="M404 904.5 L434.7 904.5 L446 911" stroke="#6a6a6a" stroke-width="0.6" fill="none"/>
<text x="404.3" y="907" font-family="Liberation Serif" font-size="7" fill="#2a2a2a" textLength="30.4" lengthAdjust="spacingAndGlyphs">1/2-14NPSM</text>
<path d="M474.1 765.8 L474.1 853 C 474.1 870 505.2 880 505.2 909 C 505.2 935 490 956.5 469 957 C 448 957 432.5 948 432.5 937 C 432.5 930 437 924 444.5 919" stroke="#4a4a4a" stroke-width="5.4" fill="none"/>
<path d="M474.1 765.8 L474.1 853 C 474.1 870 505.2 880 505.2 909 C 505.2 935 490 956.5 469 957 C 448 957 432.5 948 432.5 937 C 432.5 930 437 924 444.5 919" stroke="#fff" stroke-width="3.8" fill="none"/>
<path d="M451.3 873.5 L463.4 873.5 L463.4 878.6 L451.3 878.6 Z" stroke="#3a3a3a" stroke-width="0.9" fill="none"/>
<circle cx="458" cy="888.7" r="11.7" stroke="#3a3a3a" stroke-width="0.9" fill="none"/>
<circle cx="458" cy="888.7" r="6.3" stroke="#222" stroke-width="1.8" fill="none"/>
<path d="M453 895 L452 902 L443 914 L448 919 L457 907 L462 897" stroke="#3a3a3a" stroke-width="0.9" fill="none"/>
<path d="M445 909 L452 913" stroke="#3a3a3a" stroke-width="0.9" fill="none"/>
<path d="M564.1 539.2 L750.5 539.2 M564.1 539.2 L564.1 643.5 M750.5 539.2 L750.5 629.3" stroke="#6a6a6a" stroke-width="0.6" fill="none"/>
<path d="M564.1 539.2 L568.1 538.1 L568.1 540.3 Z" fill="#555"/>
<path d="M750.5 539.2 L746.5 540.3 L746.5 538.1 Z" fill="#555"/>
<text x="653" y="538.7" font-family="Liberation Serif" font-size="6.5" fill="#2a2a2a" textLength="14.8" lengthAdjust="spacingAndGlyphs">559.7</text>
<path d="M650.3 569.2 L750.5 569.2 M650.3 569.2 L650.3 629" stroke="#6a6a6a" stroke-width="0.6" fill="none"/>
<path d="M650.3 569.2 L654.3 568.1 L654.3 570.3 Z" fill="#555"/>
<path d="M750.5 569.2 L746.5 570.3 L746.5 568.1 Z" fill="#555"/>
<text x="695" y="568.7" font-family="Liberation Serif" font-size="6.5" fill="#2a2a2a" textLength="10.4" lengthAdjust="spacingAndGlyphs">300</text>
<path d="M583.5 611.6 L583.5 600 Q583.5 582.7 601 582.7 L686.7 582.7 Q705 582.7 705 601 L705 610 M591.5 611.6 L591.5 604 Q591.5 589.8 605 589.8 L683.7 589.8 Q696.8 589.8 696.8 603 L696.8 610" stroke="#3a3a3a" stroke-width="0.9" fill="none"/>
<rect x="696.8" y="609.6" width="8.2" height="2.6" fill="#333"/>
<path d="M697.5 612 L697.5 617 M704.3 612 L704.3 617" stroke="#3a3a3a" stroke-width="0.9" fill="none"/>
<path d="M694.4 617 L707.4 617 L707.4 624.2 L694.4 624.2 Z" stroke="#3a3a3a" stroke-width="0.9" fill="none"/>
<path d="M660.4 625.3 L739.4 625.3 L750.5 628.7 L650.3 628.7 Z M650.3 628.7 L650.3 629.6 L750.5 629.6" stroke="#3a3a3a" stroke-width="0.9" fill="none"/>
<path d="M655 630.8 L746 630.8" stroke="#444" stroke-width="1.8" stroke-dasharray="2 0.8 1 1.2" fill="none"/>
<path d="M700.5 622 L700.5 668.5" stroke="#6a6a6a" stroke-width="0.6" fill="none"/>
<circle cx="700.5" cy="621" r="1.6" stroke="#6a6a6a" stroke-width="0.6" fill="none"/>
<path d="M582.3 611.6 L592.6 611.6 L592.6 623 L582.3 623 Z" stroke="#3a3a3a" stroke-width="0.9" fill="none"/>
<path d="M582.8 623 L582.8 873.7 M592.6 623 L592.6 873.7" stroke="#3a3a3a" stroke-width="0.9" fill="none"/>
<path d="M564 643.5 L570 643.5 L570 668.5 L564 668.5 Z M570 649 L582.8 649 M570 661.7 L582.8 661.7" stroke="#3a3a3a" stroke-width="0.9" fill="none"/>
<path d="M592.6 668.5 L700.5 668.5" stroke="#6a6a6a" stroke-width="0.6" fill="none"/>
<path d="M592.6 668.5 L596.6 667.4 L596.6 669.6 Z" fill="#555"/>
<path d="M700.5 668.5 L696.5 669.6 L696.5 667.4 Z" fill="#555"/>
<text x="637" y="667.4" font-family="Liberation Serif" font-size="6.5" fill="#2a2a2a" textLength="14.8" lengthAdjust="spacingAndGlyphs">324.3</text>
<path d="M592.6 672 C 598 668 602 672 600 690 C 598 710 593 720 592.6 725" stroke="#3a3a3a" stroke-width="0.9" fill="none"/>
<path d="M592.6 680 C 596 690 594 705 591 715" stroke="#6a6a6a" stroke-width="0.6" fill="none"/>
<circle cx="587.7" cy="759.4" r="6.3" fill="#fff" stroke="#4a4a4a" stroke-width="0.8"/>
<path d="M586 753.3 L586 747 Q587.6 745.5 589.2 747 L589.2 753.3" stroke="#3a3a3a" stroke-width="0.9" fill="none"/>
<path d="M564.4 858.4 L638.5 858.4 M564.4 858.4 L564.4 876 M607.4 858.4 L607.4 882.4" stroke="#6a6a6a" stroke-width="0.6" fill="none"/>
<path d="M564.4 858.4 L568.4 857.3 L568.4 859.5 Z" fill="#555"/>
<path d="M607.4 858.4 L603.4 859.5 L603.4 857.3 Z" fill="#555"/>
<text x="623.4" y="858.1" font-family="Liberation Serif" font-size="6.5" fill="#2a2a2a" textLength="15.1" lengthAdjust="spacingAndGlyphs">127.9</text>
<path d="M581.6 873.7 L593.7 873.7 L593.7 880.9 L581.6 880.9 Z" stroke="#3a3a3a" stroke-width="0.9" fill="none"/>
<circle cx="587.6" cy="878" r="1.4" stroke="#6a6a6a" stroke-width="0.6" fill="none"/>
<path d="M564.1 878 Q564.1 876.3 566 876.3 L569.4 876.3 L569.4 880.9 L572.5 880.9 L605.1 880.9 Q607.6 884 607.6 888 Q607.6 892 605.1 895.3 L572.5 895.3 L569.4 895.3 L569.4 900.6 L566 900.6 Q564.1 900.6 564.1 899 Z M572.5 880.9 L572.5 895.3 M605.1 880.9 L605.1 895.3" stroke="#3a3a3a" stroke-width="0.9" fill="none"/>
<path d="M583 895.3 L583 908 M592 895.3 L592 908" stroke="#3a3a3a" stroke-width="0.9" fill="none"/>
<path d="M583 908 Q587.5 906 592 908 L591.5 918 L584.5 918 Z" stroke="#3a3a3a" stroke-width="0.9" fill="none"/>
<path d="M584.6 918 L584.6 957 Q588 962 591.5 957 L591.5 918" stroke="#3a3a3a" stroke-width="0.9" fill="none"/></g></svg>
<div class="t" id="title">DL1207+SD3700+DS6330</div>
<div class="t cn" style="left:442.5px;top:159.5px">美式淋浴柱系列</div>

<div class="t k" style="left:442px;top:190.5px;font-size:17.5px">Stainless Steel Tube</div>
<div class="t v" style="left:611px;top:191px">DL1207</div>

<div class="t k" style="left:442.8px;top:221px">1-Function Chrome Shower</div>
<div class="t v" style="left:672.2px;top:222px">SD3700</div>

<div class="t k" style="left:442.8px;top:252px">8-Function Shower</div>
<div class="t v" style="left:603.1px;top:253px">DS6330</div>

<div class="t k" style="left:442.8px;top:283px">Slider</div>
<div class="t v" style="left:497.5px;top:284px">SB1001</div>

<div class="t lab" style="left:297.6px;top:268.8px;font-size:16px;letter-spacing:0.55px">顶喷多角度旋转</div>
<div class="t lab" style="left:299.6px;top:307.2px;font-size:16px;letter-spacing:0.55px">顶喷可上下调节</div>
<div class="t lab" style="left:286px;top:433.8px;font-size:16px;letter-spacing:0.55px">花洒可上下翻转</div>
<div class="t lab" style="left:286.8px;top:509px">上下调节高低</div>
<div class="t lab" style="left:287.2px;top:812.5px">切换出水</div>
<div class="t lab" style="left:286.5px;top:853px">自旋</div>
</body></html>
